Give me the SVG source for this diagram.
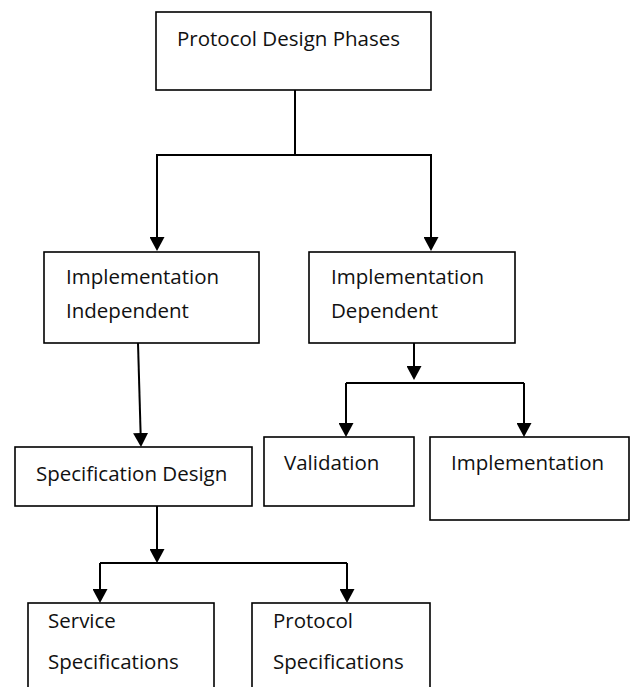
<svg xmlns="http://www.w3.org/2000/svg" width="633" height="687" viewBox="0 0 633 687">
<style>
.box{fill:#fff;stroke:#000;stroke-width:1.6}
.t{font-family:"Open Sans","Noto Sans",sans-serif;font-size:20.5px;fill:#111}
.c{fill:none;stroke:#000;stroke-width:2}
.a{marker-end:url(#ah)}
</style>
<defs>
<marker id="ah" viewBox="0 0 14 15" refX="7" refY="7.5" markerWidth="14" markerHeight="15" markerUnits="userSpaceOnUse" orient="auto">
<path d="M0,0 L14,7.5 L0,15 z" fill="#000"/>
</marker>
</defs>
<rect width="633" height="687" fill="#fff"/>
<g id="connectors">
<path class="c" d="M295,90 V155"/>
<path class="c a" d="M295,155 H157 V244"/>
<path class="c a" d="M295,155 H431 V244"/>
<path class="c a" d="M138,343 L140.8,440"/>
<path class="c a" d="M414,343 V373"/>
<path class="c" d="M346,383 H524"/>
<path class="c a" d="M346,383 V430"/>
<path class="c a" d="M524,383 V430"/>
<path class="c a" d="M157,506 V556"/>
<path class="c" d="M100,563 H347"/>
<path class="c a" d="M100,563 V596"/>
<path class="c a" d="M347,563 V596"/>
</g>
<g id="protocol-design-phases">
<rect class="box" x="156" y="12" width="275" height="78"/>
<text class="t" x="177" y="46">Protocol Design Phases</text>
</g>
<g id="implementation-independent">
<rect class="box" x="44" y="252" width="215" height="91"/>
<text class="t" x="66" y="284">Implementation</text>
<text class="t" x="66" y="318">Independent</text>
</g>
<g id="implementation-dependent">
<rect class="box" x="309" y="252" width="206" height="91"/>
<text class="t" x="331" y="284">Implementation</text>
<text class="t" x="331" y="318">Dependent</text>
</g>
<g id="specification-design">
<rect class="box" x="15" y="447" width="237" height="59"/>
<text class="t" x="36" y="481">Specification Design</text>
</g>
<g id="validation">
<rect class="box" x="264" y="437" width="150" height="69"/>
<text class="t" x="284" y="470">Validation</text>
</g>
<g id="implementation">
<rect class="box" x="430" y="437" width="199" height="83"/>
<text class="t" x="451" y="470">Implementation</text>
</g>
<g id="service-specifications">
<rect class="box" x="28" y="603" width="186" height="100"/>
<text class="t" x="48" y="628">Service</text>
<text class="t" x="48" y="669">Specifications</text>
</g>
<g id="protocol-specifications">
<rect class="box" x="252" y="603" width="178" height="100"/>
<text class="t" x="273" y="628">Protocol</text>
<text class="t" x="273" y="669">Specifications</text>
</g>
</svg>
